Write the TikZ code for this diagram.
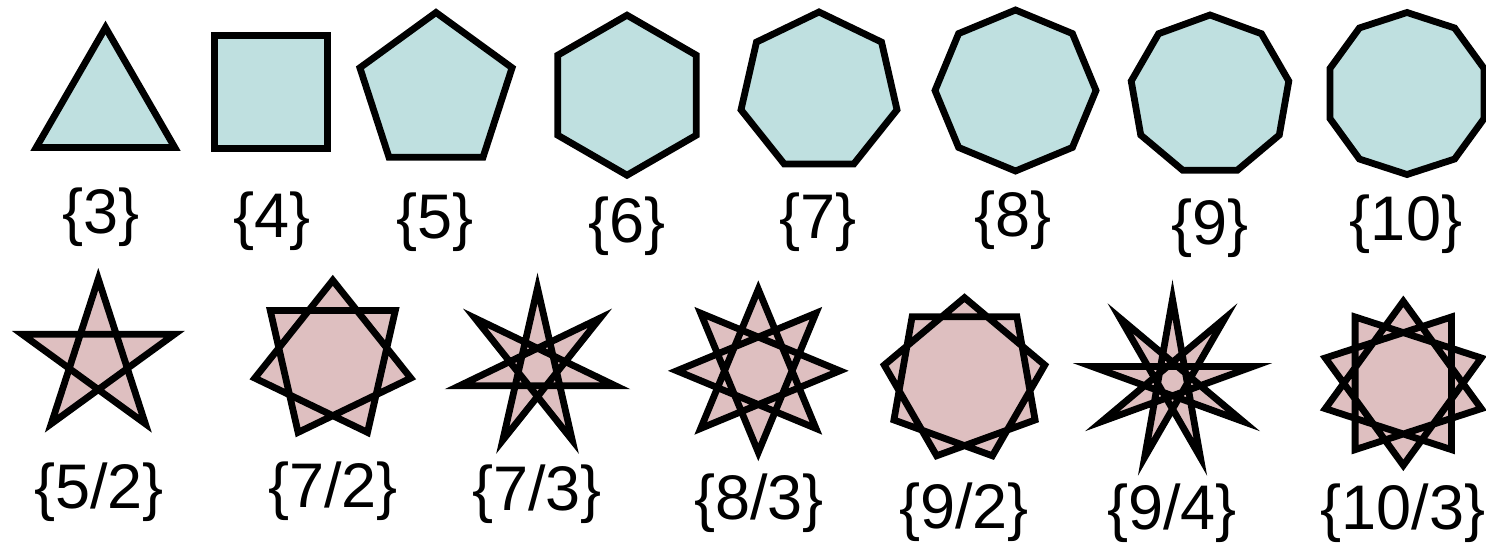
\documentclass[tikz,border=0pt]{standalone}
\usepackage{fontspec}
\setmainfont{Liberation Sans}
\definecolor{polyfill}{RGB}{191,224,224}
\definecolor{starfill}{RGB}{222,191,192}
\tikzset{
  shapeline/.style={draw=black, line width=3.4pt, line join=miter, miter limit=20},
  polyshape/.style={shapeline, fill=polyfill},
  starshape/.style={shapeline, fill=starfill},
  lbl/.style={inner sep=0pt, font=\fontsize{31.5}{36}\selectfont}
}
% #1 style, #2 cx, #3 cy, #4 n, #5 k, #6 start angle, #7 radius
\newcommand{\regstar}[7]{%
  \pgfmathtruncatemacro{\nlast}{#4-1}%
  \draw[#1, shift={(#2,#3)}] (#6:#7)
    \foreach \i in {1,...,\nlast} { -- ({#6+\i*360*#5/#4}:#7) } -- cycle;%
}
\begin{document}
\begin{tikzpicture}[x=0.5pt, y=-0.5pt]
\useasboundingbox[fill=white] (0,0) rectangle (1486,546);
% top row: regular polygons
\regstar{polyshape}{105.5}{107.5}{3}{1}{270}{80}
\regstar{polyshape}{271}{92}{4}{1}{45}{80.3}
\regstar{polyshape}{436}{92.5}{5}{1}{270}{80}
\regstar{polyshape}{627}{95.2}{6}{1}{270}{80}
\regstar{polyshape}{819}{92}{7}{1}{270}{80}
\regstar{polyshape}{1015.5}{90.5}{8}{1}{270}{80.5}
\regstar{polyshape}{1210}{95}{9}{1}{270}{80}
\regstar{polyshape}{1407}{93.5}{10}{1}{270}{81}
% bottom row: star polygons
\regstar{starshape}{98.3}{359}{5}{2}{270}{80}
\regstar{starshape}{332.8}{360.3}{7}{2}{270}{80}
\regstar{starshape}{537.5}{368}{7}{3}{270}{80}
\regstar{starshape}{758.3}{370.8}{8}{3}{270}{81.5}
\regstar{starshape}{964.5}{379.2}{9}{2}{270}{81.5}
\regstar{starshape}{1172.5}{380.7}{9}{4}{270}{81.5}
\regstar{starshape}{1403.3}{383.3}{10}{3}{270}{82}
% labels
\node[lbl] (l3)  at (101,217)  {\{3\}};
\node[lbl] (l4)  at (272,221)  {\{4\}};
\node[lbl] (l5)  at (435,222)  {\{5\}};
\node[lbl] (l6)  at (627,226)  {\{6\}};
\node[lbl] (l7)  at (818,222)  {\{7\}};
\node[lbl] (l8)  at (1013,220) {\{8\}};
\node[lbl] (l9)  at (1210,228) {\{9\}};
\node[lbl] (l10) at (1406,224) {\{10\}};
\node[lbl] (l52) at (99,492)   {\{5/2\}};
\node[lbl] (l72) at (333,491)  {\{7/2\}};
\node[lbl] (l73) at (537,494)  {\{7/3\}};
\node[lbl] (l83) at (759,503)  {\{8/3\}};
\node[lbl] (l92) at (964,512)  {\{9/2\}};
\node[lbl] (l94) at (1172,513) {\{9/4\}};
\node[lbl] (l103) at (1403,513) {\{10/3\}};
\end{tikzpicture}
\end{document}
